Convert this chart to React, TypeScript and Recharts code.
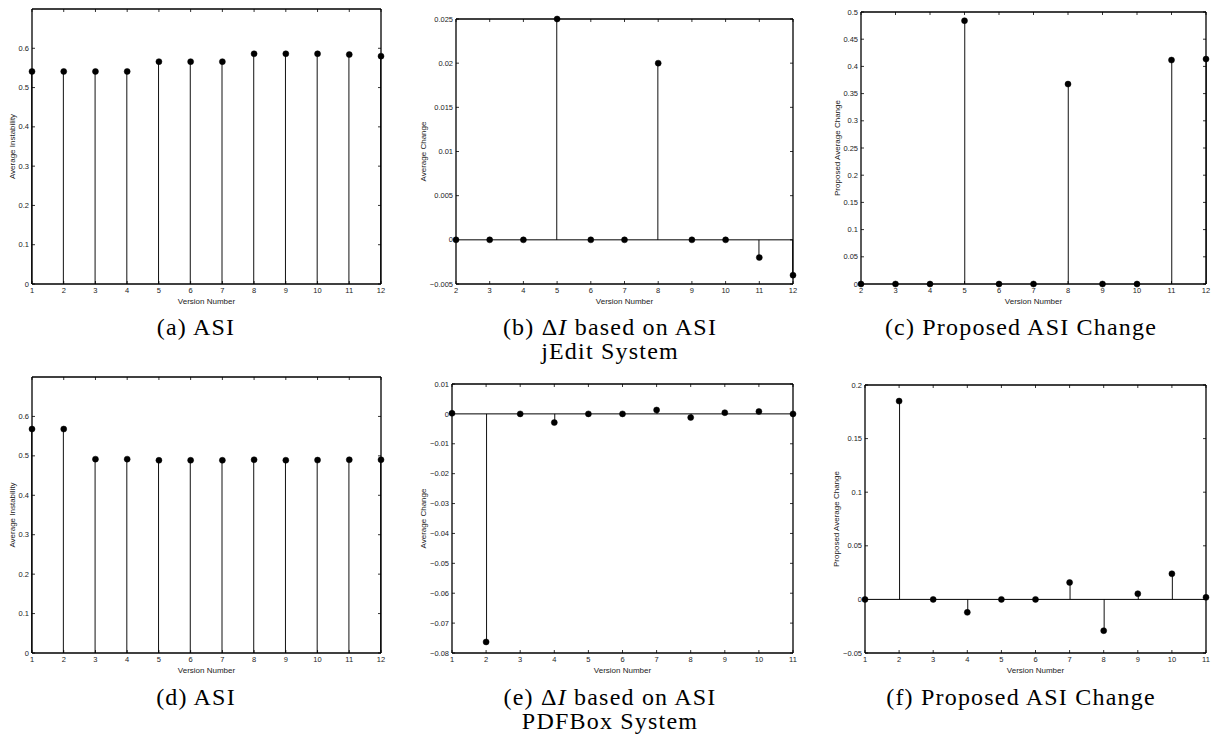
import React from 'react';
import { ComposedChart, Bar, Line, XAxis, YAxis, ReferenceLine, Label } from 'recharts';

// ---------- data ----------
const jeditVersions = [1, 2, 3, 4, 5, 6, 7, 8, 9, 10, 11, 12];
const jeditAsi = [0.541, 0.541, 0.541, 0.541, 0.566, 0.566, 0.566, 0.586, 0.586, 0.586, 0.584, 0.58];
const jeditChangeVersions = [2, 3, 4, 5, 6, 7, 8, 9, 10, 11, 12];
const jeditDelta = [0, 0, 0, 0.025, 0, 0, 0.02, 0, 0, -0.002, -0.004];
const jeditProposed = [0, 0, 0, 0.484, 0, 0, 0.3675, 0, 0, 0.4117, 0.4135];

const pdfboxVersions = [1, 2, 3, 4, 5, 6, 7, 8, 9, 10, 11, 12];
const pdfboxAsi = [0.568, 0.568, 0.4917, 0.4917, 0.4888, 0.4888, 0.4888, 0.4901, 0.4889, 0.4893, 0.4901, 0.4901];
const pdfboxChangeVersions = [1, 2, 3, 4, 5, 6, 7, 8, 9, 10, 11];
const pdfboxDelta = [0.0002, -0.0763, 0, -0.0029, 0, 0, 0.0013, -0.0012, 0.0004, 0.0008, 0];
const pdfboxProposed = [0, 0.185, 0, -0.0121, 0, 0, 0.0158, -0.0292, 0.0053, 0.0239, 0.0019];

const asiTicks = [0, 0.1, 0.2, 0.3, 0.4, 0.5, 0.6];
const jeditDeltaTicks = [-0.005, 0, 0.005, 0.01, 0.015, 0.02, 0.025];
const jeditProposedTicks = [0, 0.05, 0.1, 0.15, 0.2, 0.25, 0.3, 0.35, 0.4, 0.45, 0.5];
const pdfboxDeltaTicks = [-0.08, -0.07, -0.06, -0.05, -0.04, -0.03, -0.02, -0.01, 0, 0.01];
const pdfboxProposedTicks = [-0.05, 0, 0.05, 0.1, 0.15, 0.2];

const xAxisTitle = 'Version Number';
const yTitleAsi = 'Average Instability';
const yTitleDelta = 'Average Change';
const yTitleProposed = 'Proposed Average Change';

// ---------- styling helpers ----------
const SANS = 'Liberation Sans, Arial, Helvetica, sans-serif';
const SERIF = 'Liberation Serif, Times New Roman, serif';
const TICK_FS = 7.5;
const M = 3; // tick margin
const TL = 3; // inward tick length

function fmt(v: number): string {
  if (Math.abs(v) < 1e-12) return '0';
  const s = String(parseFloat(v.toFixed(4)));
  return s.replace('-', '\u2212');
}

const LeftTick = (p: any) => (
  <g>
    <line x1={p.x + M} x2={p.x + M + TL} y1={p.y} y2={p.y} stroke="#000" strokeWidth={0.8} />
    <text x={p.x} y={p.y} dy="0.35em" textAnchor="end" fontFamily={SANS} fontSize={TICK_FS} fill="#222">
      {fmt(p.payload.value)}
    </text>
  </g>
);
const RightTick = (p: any) => (
  <line x1={p.x - M} x2={p.x - M - TL} y1={p.y} y2={p.y} stroke="#000" strokeWidth={0.8} />
);
const BottomTick = (p: any) => (
  <g>
    <line x1={p.x} x2={p.x} y1={p.y - M} y2={p.y - M - TL} stroke="#000" strokeWidth={0.8} />
    <text x={p.x} y={p.y} dy="0.8em" textAnchor="middle" fontFamily={SANS} fontSize={TICK_FS} fill="#222">
      {p.payload.value}
    </text>
  </g>
);
const TopTick = (p: any) => (
  <line x1={p.x} x2={p.x} y1={p.y + M} y2={p.y + M + TL} stroke="#000" strokeWidth={0.8} />
);

const Stem = (p: any) => {
  const cx = p.x + p.width / 2;
  return <line x1={cx} x2={cx} y1={p.y} y2={p.y + p.height} stroke="#111" strokeWidth={1} />;
};

type Rect = { l: number; t: number; r: number; b: number };
type PanelProps = {
  xs: number[];
  ys: number[];
  yDomain: [number, number];
  yTicks: number[];
  yTitle: string;
  plot: Rect;
  yTitleGap: number;
  zeroLine: boolean;
};

const PADL = 45, PADT = 10, PADR = 10, PADB = 30;
const YW = 35, XH = 25, TOPH = 5, RW = 5;

function Panel({ xs, ys, yDomain, yTicks, yTitle, plot, yTitleGap, zeroLine }: PanelProps) {
  const data = xs.map((v, i) => ({ v, y: ys[i] }));
  const w = plot.r - plot.l + PADL + PADR;
  const h = plot.b - plot.t + PADT + PADB;
  const xDomain: [number, number] = [xs[0], xs[xs.length - 1]];
  const yLabel = (lp: any) => {
    const vb = lp.viewBox || {};
    const cx = vb.x + vb.width - yTitleGap;
    const cy = vb.y + vb.height / 2;
    return (
      <text x={cx} y={cy} transform={`rotate(-90 ${cx} ${cy})`} textAnchor="middle" dy="0.35em"
        fontFamily={SANS} fontSize={8} fill="#222">{yTitle}</text>
    );
  };
  const xLabel = (lp: any) => {
    const vb = lp.viewBox || {};
    const cx = vb.x + vb.width / 2;
    return (
      <text x={cx} y={vb.y + 17} textAnchor="middle" dy="0.35em" fontFamily={SANS} fontSize={8} fill="#222">
        {xAxisTitle}
      </text>
    );
  };
  return (
    <div style={{ position: 'absolute', left: plot.l - PADL, top: plot.t - PADT }}>
      <ComposedChart
        width={w}
        height={h}
        data={data}
        margin={{ top: PADT - TOPH, right: PADR - RW, bottom: PADB - XH, left: PADL - YW }}
      >
        <XAxis dataKey="v" type="number" domain={xDomain} ticks={xs} interval={0}
          tickSize={0} tickMargin={M} tickLine={false} tick={<BottomTick />}
          axisLine={{ stroke: '#000', strokeWidth: 1.3 }} height={XH}>
          <Label content={xLabel} />
        </XAxis>
        <XAxis xAxisId="top" orientation="top" dataKey="v" type="number" domain={xDomain} ticks={xs} interval={0}
          tickSize={0} tickMargin={M} tickLine={false} tick={<TopTick />}
          axisLine={{ stroke: '#000', strokeWidth: 1.3 }} height={TOPH} />
        <YAxis type="number" domain={yDomain} ticks={yTicks} interval={0}
          tickSize={0} tickMargin={M} tickLine={false} tick={<LeftTick />}
          axisLine={{ stroke: '#000', strokeWidth: 1.3 }} width={YW}>
          <Label content={yLabel} />
        </YAxis>
        <YAxis yAxisId="right" orientation="right" type="number" domain={yDomain} ticks={yTicks} interval={0}
          tickSize={0} tickMargin={M} tickLine={false} tick={<RightTick />}
          axisLine={{ stroke: '#000', strokeWidth: 1.3 }} width={RW} />
        {zeroLine && <ReferenceLine y={0} stroke="#000" strokeWidth={1} ifOverflow="extendDomain" />}
        <Bar dataKey="y" barSize={1} shape={<Stem />} isAnimationActive={false} />
        <Line dataKey="y" stroke="none" isAnimationActive={false} activeDot={false}
          dot={{ r: 3, fill: '#000', stroke: '#000', strokeWidth: 0.5 }} />
        <Line xAxisId="top" yAxisId="right" dataKey="y" stroke="none" dot={false} activeDot={false}
          isAnimationActive={false} />
      </ComposedChart>
    </div>
  );
}

function Caption({ cx, cy, lines }: { cx: number; cy: number; lines: React.ReactNode[] }) {
  return (
    <div style={{
      position: 'absolute', left: cx - 200, top: cy - 12, width: 400, textAlign: 'center',
      fontFamily: SERIF, fontSize: 24, lineHeight: '24px', letterSpacing: '1.2px', color: '#000',
    }}>
      {lines.map((l, i) => <div key={i}>{l}</div>)}
    </div>
  );
}

export default function App() {
  return (
    <div style={{ position: 'absolute', left: 0, top: 0, width: 1214, height: 739, background: '#fff', overflow: 'hidden' }}>
      <Panel xs={jeditVersions} ys={jeditAsi} yDomain={[0, 0.7]} yTicks={asiTicks} yTitle={yTitleAsi}
        plot={{ l: 32, t: 9, r: 381, b: 284 }} yTitleGap={20} zeroLine={false} />
      <Panel xs={jeditChangeVersions} ys={jeditDelta} yDomain={[-0.005, 0.025]} yTicks={jeditDeltaTicks} yTitle={yTitleDelta}
        plot={{ l: 456, t: 19, r: 793, b: 284 }} yTitleGap={33} zeroLine={true} />
      <Panel xs={jeditChangeVersions} ys={jeditProposed} yDomain={[0, 0.5]} yTicks={jeditProposedTicks} yTitle={yTitleProposed}
        plot={{ l: 861, t: 12, r: 1206, b: 284 }} yTitleGap={24} zeroLine={false} />
      <Panel xs={pdfboxVersions} ys={pdfboxAsi} yDomain={[0, 0.7]} yTicks={asiTicks} yTitle={yTitleAsi}
        plot={{ l: 32, t: 377, r: 381, b: 653 }} yTitleGap={20} zeroLine={false} />
      <Panel xs={pdfboxChangeVersions} ys={pdfboxDelta} yDomain={[-0.08, 0.01]} yTicks={pdfboxDeltaTicks} yTitle={yTitleDelta}
        plot={{ l: 452, t: 384, r: 793, b: 653 }} yTitleGap={29} zeroLine={true} />
      <Panel xs={pdfboxChangeVersions} ys={pdfboxProposed} yDomain={[-0.05, 0.2]} yTicks={pdfboxProposedTicks} yTitle={yTitleProposed}
        plot={{ l: 865, t: 385, r: 1206, b: 653 }} yTitleGap={29} zeroLine={true} />

      <Caption cx={196} cy={327} lines={['(a) ASI']} />
      <Caption cx={610} cy={327} lines={[<span key="b">(b) Δ<i>I</i> based on ASI</span>, 'jEdit System']} />
      <Caption cx={1021} cy={327} lines={['(c) Proposed ASI Change']} />
      <Caption cx={196} cy={697} lines={['(d) ASI']} />
      <Caption cx={610} cy={697} lines={[<span key="e">(e) Δ<i>I</i> based on ASI</span>, 'PDFBox System']} />
      <Caption cx={1021} cy={697} lines={['(f) Proposed ASI Change']} />
    </div>
  );
}
